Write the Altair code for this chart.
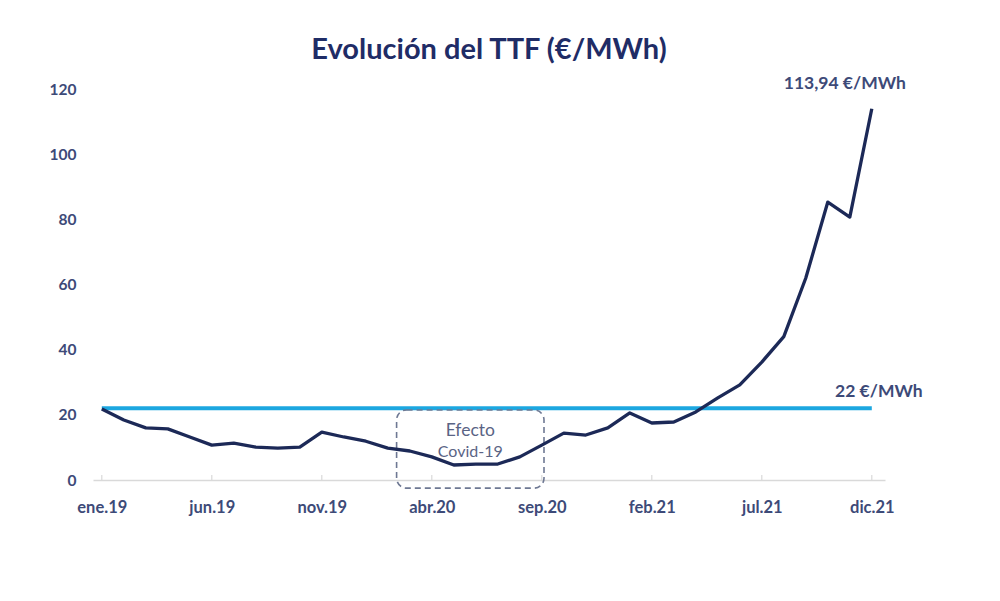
import json
import altair as alt
import pandas as pd

# ---- data ----
months = ["ene.19", "feb.19", "mar.19", "abr.19", "may.19", "jun.19", "jul.19", "ago.19",
          "sep.19", "oct.19", "nov.19", "dic.19",
          "ene.20", "feb.20", "mar.20", "abr.20", "may.20", "jun.20", "jul.20", "ago.20",
          "sep.20", "oct.20", "nov.20", "dic.20",
          "ene.21", "feb.21", "mar.21", "abr.21", "may.21", "jun.21", "jul.21", "ago.21",
          "sep.21", "oct.21", "nov.21", "dic.21"]
ttf = [21.8, 18.4, 16.0, 15.7, 13.2, 10.7, 11.3, 10.1, 9.8, 10.1, 14.7, 13.2,
       11.9, 9.8, 8.9, 7.1, 4.6, 4.9, 4.9, 7.1, 10.7, 14.4, 13.8, 16.0,
       20.6, 17.5, 17.8, 20.9, 25.2, 29.2, 36.2, 44.0, 62.0, 85.3, 80.7, 113.94]
ref_level = 22
tick_labels = ["ene.19", "jun.19", "nov.19", "abr.20", "sep.20", "feb.21", "jul.21", "dic.21"]
y_ticks = [0, 20, 40, 60, 80, 100, 120]
peak_label = "113,94 €/MWh"
ref_label = "22 €/MWh"
covid_text = ["Efecto", "Covid-19"]
covid_span = ["abr.20", "sep.20"]
title = "Evolución del TTF (€/MWh)"

# ---- tables ----
df = pd.DataFrame({"i": list(range(len(months))), "mes": months, "ttf": ttf})
tick_idx = [months.index(t) for t in tick_labels]
ticks_df = pd.DataFrame({"i": tick_idx, "y0": [0] * len(tick_idx), "y1": [1.5] * len(tick_idx)})
ref_df = pd.DataFrame({"i0": [0], "i1": [len(months) - 1], "v": [ref_level], "label": [ref_label]})
peak_df = df.tail(1).assign(label=peak_label)
c0 = months.index(covid_span[0]) - 1.6
c1 = months.index(covid_span[1]) + 0.1
box_df = pd.DataFrame({"x0": [c0], "x1": [c1], "y0": [-2.5], "y1": [21.5]})
covid_df = pd.DataFrame({"x": [(c0 + c1) / 2] * 2, "y": [15.0, 8.6], "t": covid_text,
                         "s": [17.5, 16]})

NAVY = "#1c2957"
BLUE = "#1ca7e0"
LABEL = "#3d4a78"
FONT = "Lato"

xs = alt.Scale(domain=[-0.4, len(months) - 0.4])
ys = alt.Scale(domain=[0, 120])

label_expr = json.dumps(months) + "[datum.value]"

ref_line = alt.Chart(ref_df).mark_rule(color=BLUE, strokeWidth=4).encode(
    x=alt.X("i0:Q", scale=xs,
            axis=alt.Axis(values=tick_idx, labelExpr=label_expr, title=None, grid=False,
                          domainColor="#d9d9d9", domainWidth=1.5, ticks=False, labelPadding=19,
                          labelFont=FONT, labelFontSize=16.5, labelFontWeight="bold",
                          labelColor=LABEL)),
    x2="i1:Q",
    y=alt.Y("v:Q", scale=ys,
            axis=alt.Axis(values=y_ticks, title=None, grid=False, domain=False, ticks=False,
                          labelPadding=17, labelFont=FONT, labelFontSize=15.5,
                          labelFontWeight="bold", labelColor=LABEL)),
)

tick_marks = alt.Chart(ticks_df).mark_rule(color="#d9d9d9", strokeWidth=1.2).encode(
    x=alt.X("i:Q", scale=xs), y=alt.Y("y0:Q", scale=ys), y2="y1:Q")

box = alt.Chart(box_df).mark_rect(fill="transparent", stroke="#6e7893", strokeWidth=1.6,
                                  strokeDash=[6, 4], cornerRadius=10).encode(
    x=alt.X("x0:Q", scale=xs), x2="x1:Q", y=alt.Y("y0:Q", scale=ys), y2="y1:Q")

covid = alt.Chart(covid_df).mark_text(font=FONT, color="#5a6485").encode(
    x=alt.X("x:Q", scale=xs), y=alt.Y("y:Q", scale=ys), text="t:N",
    size=alt.Size("s:Q", scale=None, legend=None))

line = alt.Chart(df).mark_line(color=NAVY, strokeWidth=3.3, strokeJoin="round").encode(
    x=alt.X("i:Q", scale=xs), y=alt.Y("ttf:Q", scale=ys))

peak = alt.Chart(peak_df).mark_text(font=FONT, fontSize=17.5, fontWeight="bold", color=LABEL,
                                    dx=-27, dy=-25).encode(
    x=alt.X("i:Q", scale=xs), y=alt.Y("ttf:Q", scale=ys), text="label:N")

ref_text = alt.Chart(ref_df).mark_text(font=FONT, fontSize=17.5, fontWeight="bold", color=LABEL,
                                       dx=7, dy=-16).encode(
    x=alt.X("i1:Q", scale=xs), y=alt.Y("v:Q", scale=ys), text="label:N")

chart = alt.layer(ref_line, tick_marks, box, covid, line, peak, ref_text).properties(
    width=792, height=391,
    title=alt.TitleParams(title, font=FONT, fontSize=29, fontWeight="bold", color="#1f2c66",
                          anchor="middle", offset=10),
    autosize=alt.AutoSizeParams(type="none"),
    padding={"left": 85, "top": 81, "right": 100, "bottom": 100},
).configure_view(stroke=None)

chart.save("out.html", embed_options={"renderer": "svg", "actions": False})
